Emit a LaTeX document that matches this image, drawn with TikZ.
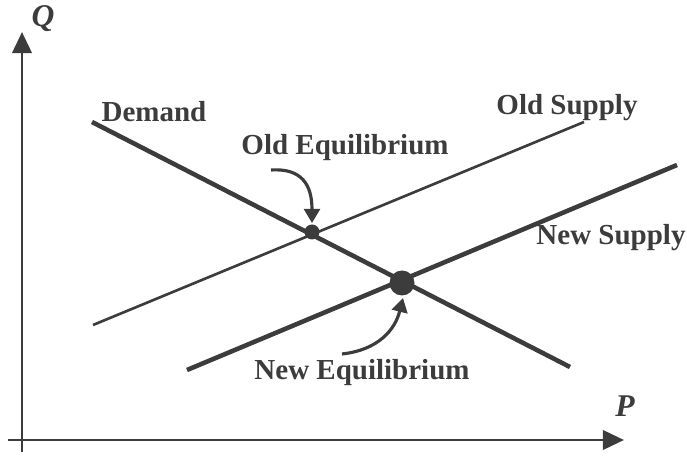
\documentclass[tikz,border=0pt]{standalone}
\usepackage{fontspec}
\setmainfont{Liberation Serif}
\usetikzlibrary{arrows.meta}

\definecolor{ink}{HTML}{3C3C3C}

\begin{document}
\begin{tikzpicture}[x=0.02cm, y=-0.02cm, >={Triangle[length=12pt,width=11pt]},
  axis/.style={draw=ink, line width=1.7pt},
  curve/.style={draw=ink, line width=2.6pt},
  thincurve/.style={draw=ink, line width=1.5pt},
  lbl/.style={text=ink, font=\fontsize{16.5}{18}\selectfont\bfseries, inner sep=0pt},
  eqarrow/.style={draw=ink, line width=1.8pt, -{Triangle[length=8pt,width=9pt]}}]
  \useasboundingbox (0,0) rectangle (687,459);

  % axes
  \coordinate (O) at (22,440);
  \coordinate (Ybot) at (22,452);
  \coordinate (Ytop) at (22,32);
  \coordinate (Xl) at (8,440);
  \coordinate (Xr) at (624,440);
  \draw[axis,->] (Ybot) -- (Ytop);
  \draw[axis,->] (Xl) -- (Xr);
  \node[lbl, font=\fontsize{18}{20}\selectfont\bfseries\itshape] (qlbl) at (43,19) {Q};
  \node[lbl, font=\fontsize{18}{20}\selectfont\bfseries\itshape] (plbl) at (625,406) {P};

  % demand and supply lines
  \coordinate (D1) at (92,122);
  \coordinate (D2) at (570,367);
  \coordinate (OS1) at (93,325);
  \coordinate (OS2) at (584,122);
  \coordinate (NS1) at (187,370);
  \coordinate (NS2) at (677,165);
  \draw[curve] (D1) -- (D2);
  \draw[thincurve] (OS1) -- (OS2);
  \draw[curve] (NS1) -- (NS2);

  % equilibria
  \fill[ink] (312,232) circle (7.5);
  \fill[ink] (402,283) circle (12.5);
  \coordinate (oldeq) at (312,223);
  \coordinate (neweq) at (403,298);

  \node[lbl] (demand) at (154,112) {Demand};
  \node[lbl] (oldsup) at (567,108) {Old Supply};
  \node[lbl] (newsup) at (611,238) {New Supply};
  \node[lbl] (oldlbl) at (345,148) {Old Equilibrium};
  \node[lbl] (newlbl) at (362,373) {New Equilibrium};

  % pointers
  \coordinate (oldstart) at (271,170);
  \coordinate (newstart) at (342,354);
  \draw[eqarrow] (oldstart) .. controls (302,168) and (312,185) .. (oldeq);
  \draw[eqarrow] (newstart) .. controls (378,350) and (395,330) .. (neweq);
\end{tikzpicture}
\end{document}
